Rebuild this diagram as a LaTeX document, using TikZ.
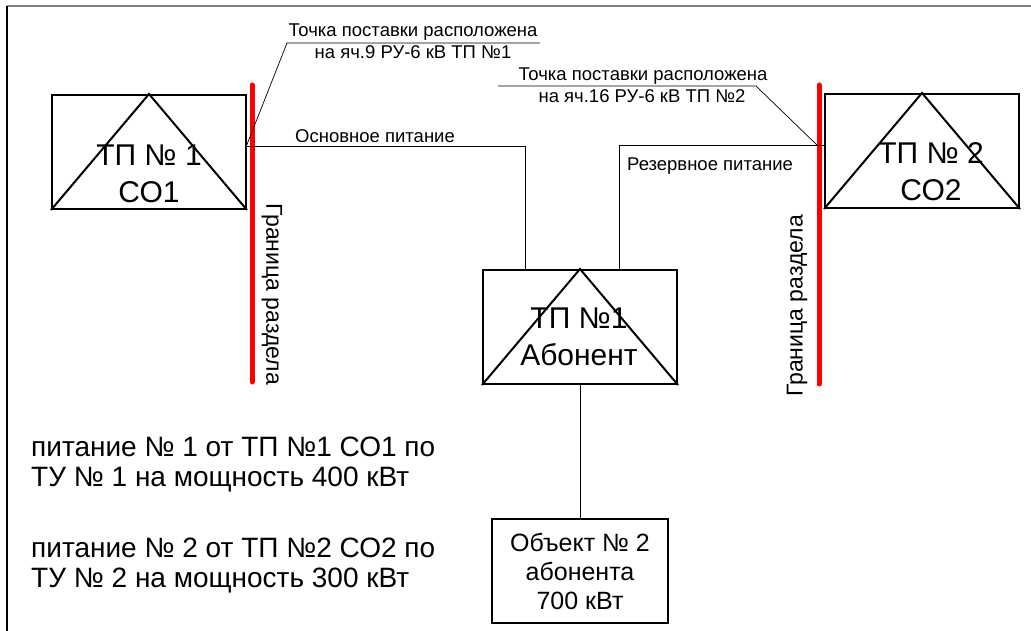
\documentclass[tikz,border=0pt]{standalone}
\usepackage{fontspec}
\setmainfont{Liberation Sans}
\usetikzlibrary{positioning}

\begin{document}
\begin{tikzpicture}[
      x=1pt, y=-1pt,
      node distance=133pt,
      station/.style={
          rectangle,
          draw,
          line width=2pt,
          minimum width=194pt,
          minimum height=114pt,
          inner sep=0pt
        },
      objbox/.style={
          rectangle,
          draw,
          line width=2pt,
          align=center,
          minimum width=176pt,
          minimum height=104pt,
          inner sep=0pt,
          font=\fontsize{25}{29}\selectfont
        },
      bigtext/.style={
          align=center,
          anchor=north,
          inner sep=0pt,
          font=\fontsize{30}{37}\selectfont
        },
      small/.style={
          inner sep=0pt,
          font=\fontsize{18.5}{22}\selectfont
        },
      side/.style={
          inner sep=0pt,
          font=\fontsize{23}{26}\selectfont
        },
      note/.style={
          align=left,
          anchor=north west,
          inner sep=0pt,
          font=\fontsize{28}{30}\selectfont
        },
      tri/.style={
          line width=2pt
        },
      wire/.style={
          line width=1pt
        },
      border/.style={
          red,
          line width=5pt,
          line cap=round
        }
    ]
    \useasboundingbox (0,0) rectangle (1031,631);

    % Frame
    \draw[gray, line width=2pt] (7,6.5) -- (1031,6.5);
    \draw[line width=1.2pt] (7,6) -- (7,631);

    % Stations
    \node[station] (tp1) at (149,152) {};
    \node[station] (tp2) at (922,151) {};
    \node[station] (ab) at (580,327) {};
    \node[objbox, below=of ab] (obj) {Объект № 2\\абонента\\700 кВт};

    \draw[tri] (tp1.south west) -- (tp1.north) -- (tp1.south east);
    \draw[tri] (tp2.south west) -- (tp2.north) -- (tp2.south east);
    \draw[tri] (ab.south west) -- (ab.north) -- (ab.south east);

    \node[bigtext] (tp1txt) at (149,145) {ТП № 1\\СО1};
    \node[bigtext] (tp2txt) at (931,142) {ТП № 2\\СО2};
    \node[bigtext] (abtxt) at (579,308) {ТП №1\\Абонент};

    % Borders
    \coordinate (b1top) at (252,85);
    \coordinate (b1bot) at (252,382);
    \coordinate (b2top) at (819,85);
    \coordinate (b2bot) at (819,384);
    \draw[border] (b1top) -- (b1bot);
    \draw[border] (b2top) -- (b2bot);
    \node[side, rotate=-90] (gr1) at (272,294) {Граница раздела};
    \node[side, rotate=90] (gr2) at (797,306) {Граница раздела};

    % Feeders
    \coordinate (m1) at (246,147);
    \coordinate (r1) at (826,146);
    \draw[wire] (m1) -| ([xshift=-55pt]ab.north);
    \draw[wire] ([xshift=39pt]ab.north) |- (r1);
    \draw[wire] (ab.south) -- (obj.north);
    \node[small, anchor=base west] (main) at (295,143) {Основное питание};
    \node[small, anchor=base west] (res) at (627,170.7) {Резервное питание};

    % Supply points
    \coordinate (q1) at (287,43);
    \coordinate (q1e) at (540,43);
    \coordinate (p2) at (818,146);
    \coordinate (q2) at (756,86);
    \coordinate (q2e) at (498,86);
    \draw[wire, line width=0.7pt] (m1) -- (q1) -- (q1e);
    \draw[wire, line width=0.7pt] (p2) -- (q2) -- (q2e);
    \node[small, anchor=base] (pt1a) at (413,37) {Точка поставки расположена};
    \node[small, anchor=base] (pt1b) at (413,59) {на яч.9 РУ-6 кВ ТП №1};
    \node[small, anchor=base] (pt2a) at (643,81) {Точка поставки расположена};
    \node[small, anchor=base] (pt2b) at (642,102.7) {на яч.16 РУ-6 кВ ТП №2};

    % Notes
    \node[note] (note1) at (31,437) {питание № 1 от ТП №1 СО1 по\\ТУ № 1 на мощность 400 кВт};
    \node[note] (note2) at (31,538) {питание № 2 от ТП №2 СО2 по\\ТУ № 2 на мощность 300 кВт};
  \end{tikzpicture}
\end{document}
